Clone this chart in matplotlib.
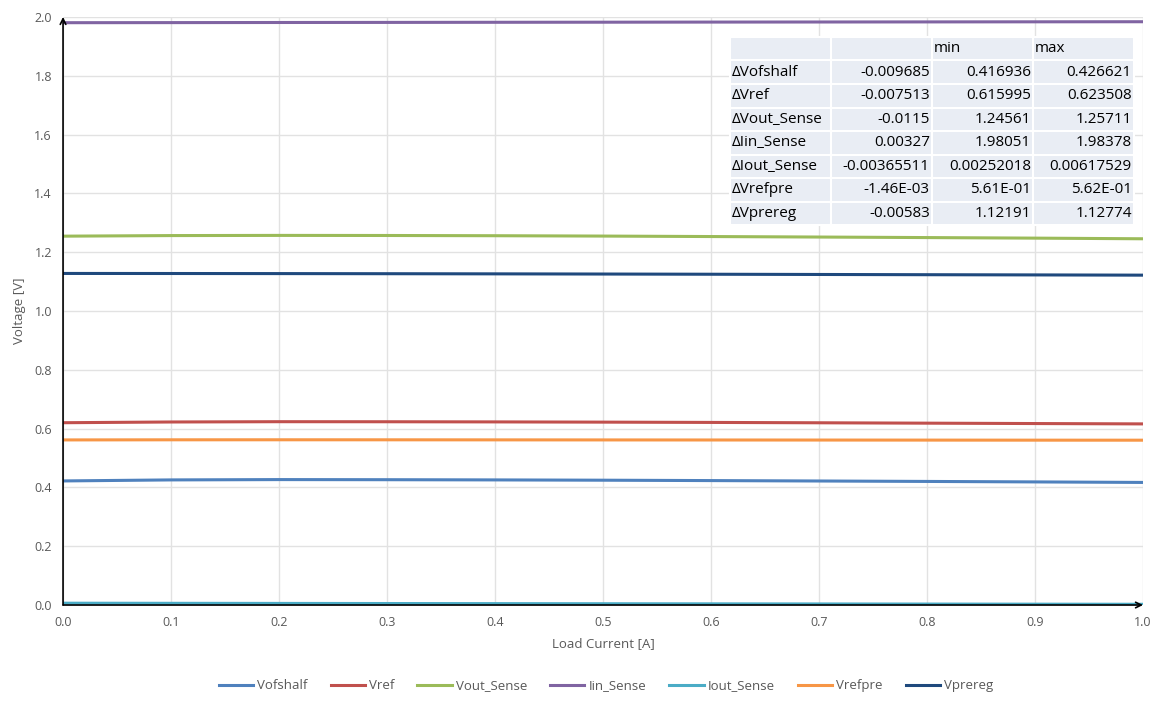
import matplotlib.pyplot as plt
from matplotlib.patches import Rectangle

# Load current sweep, A
load_current = [0.0, 0.1, 0.2, 0.3, 0.4, 0.5, 0.6, 0.7, 0.8, 0.9, 1.0]

# Measured voltages, V
vofshalf = [0.4220, 0.4255, 0.4266, 0.4262, 0.4255, 0.4245, 0.4232, 0.4218, 0.4203, 0.4187, 0.4169]
vref = [0.6200, 0.6225, 0.6235, 0.6233, 0.6228, 0.6220, 0.6210, 0.6198, 0.6185, 0.6172, 0.6160]
vout_sense = [1.2545, 1.2565, 1.2571, 1.2568, 1.2560, 1.2548, 1.2532, 1.2515, 1.2497, 1.2478, 1.2456]
iin_sense = [1.9805, 1.9808, 1.9812, 1.9815, 1.9819, 1.9822, 1.9826, 1.9829, 1.9832, 1.9835, 1.9838]
iout_sense = [0.00618, 0.00580, 0.00545, 0.00510, 0.00472, 0.00435, 0.00398, 0.00362, 0.00325, 0.00288, 0.00252]
vrefpre = [0.5615, 0.5619, 0.5620, 0.5619, 0.5617, 0.5615, 0.5613, 0.5611, 0.5609, 0.5607, 0.5606]
vprereg = [1.1277, 1.1275, 1.1272, 1.1268, 1.1263, 1.1257, 1.1250, 1.1242, 1.1234, 1.1227, 1.1219]

series_names = ["Vofshalf", "Vref", "Vout_Sense", "Iin_Sense", "Iout_Sense", "Vrefpre", "Vprereg"]
series_values = [vofshalf, vref, vout_sense, iin_sense, iout_sense, vrefpre, vprereg]
colors = ["#4F81BD", "#C0504D", "#9BBB59", "#8064A2", "#4BACC6", "#F79646", "#1F497D"]

# Summary table: delta, min, max
table_rows = ["ΔVofshalf", "ΔVref", "ΔVout_Sense", "ΔIin_Sense", "ΔIout_Sense", "ΔVrefpre", "ΔVprereg"]
table_delta = ["-0.009685", "-0.007513", "-0.0115", "0.00327", "-0.00365511", "-1.46E-03", "-0.00583"]
table_min = ["0.416936", "0.615995", "1.24561", "1.98051", "0.00252018", "5.61E-01", "1.12191"]
table_max = ["0.426621", "0.623508", "1.25711", "1.98378", "0.00617529", "5.62E-01", "1.12774"]

plt.rcParams['font.family'] = ['Open Sans', 'DejaVu Sans']

fig = plt.figure(figsize=(11.61, 7.04), dpi=100)
ax = fig.add_axes([0.0543, 0.1406, 0.9302, 0.8353])

for name, vals, c in zip(series_names, series_values, colors):
    ax.plot(load_current, vals, color=c, lw=2.2, label=name)

ax.set_xlim(0, 1.0)
ax.set_ylim(0, 2.0)
ax.set_xticks([i / 10 for i in range(11)])
ax.set_yticks([i / 5 for i in range(11)])
ax.xaxis.set_major_formatter(plt.FormatStrFormatter('%.1f'))
ax.yaxis.set_major_formatter(plt.FormatStrFormatter('%.1f'))
ax.tick_params(length=0, labelsize=9, labelcolor="#595959", pad=8)
ax.grid(True, color="#E2E2E2", lw=1)
ax.set_axisbelow(True)
for s in ax.spines.values():
    s.set_visible(False)

# axes drawn as arrows
ax.annotate('', xy=(0, 1), xytext=(0, 0), xycoords='axes fraction',
            arrowprops=dict(arrowstyle='->', color='black', lw=1.2, shrinkA=0, shrinkB=0))
ax.annotate('', xy=(1, 0), xytext=(0, 0), xycoords='axes fraction',
            arrowprops=dict(arrowstyle='->', color='black', lw=1.2, shrinkA=0, shrinkB=0))

ax.set_xlabel("Load Current [A]", fontsize=9.5, color="#595959", labelpad=6)
ax.set_ylabel("Voltage [V]", fontsize=9.5, color="#595959", labelpad=6)

# summary table, drawn cell by cell in axes coordinates
cell_text = [["", "", "min", "max"]]
for r, d, mn, mx in zip(table_rows, table_delta, table_min, table_max):
    cell_text.append([r, d, mn, mx])

tab_x0 = 0.6176
tab_top = 0.966
col_w = 0.0935
row_h = 0.040
pad = 0.002
for i, row in enumerate(cell_text):
    y = tab_top - (i + 1) * row_h
    for j, txt in enumerate(row):
        x = tab_x0 + j * col_w
        ax.add_patch(Rectangle((x, y), col_w, row_h, transform=ax.transAxes,
                               facecolor="#E9EDF4", edgecolor="white", lw=1.5, zorder=5))
        if j == 0 or i == 0:
            ax.text(x + pad, y + row_h / 2, txt, transform=ax.transAxes, ha='left',
                    va='center', fontsize=11, zorder=6)
        else:
            ax.text(x + col_w - pad, y + row_h / 2, txt, transform=ax.transAxes, ha='right',
                    va='center', fontsize=11, zorder=6)

fig.legend(loc='lower center', bbox_to_anchor=(0.522, 0.0), ncol=7, frameon=False,
           fontsize=9.5, handlelength=2.6, columnspacing=1.75, labelcolor="#595959",
           handletextpad=0.3)

fig.savefig("out.png", dpi=100)
